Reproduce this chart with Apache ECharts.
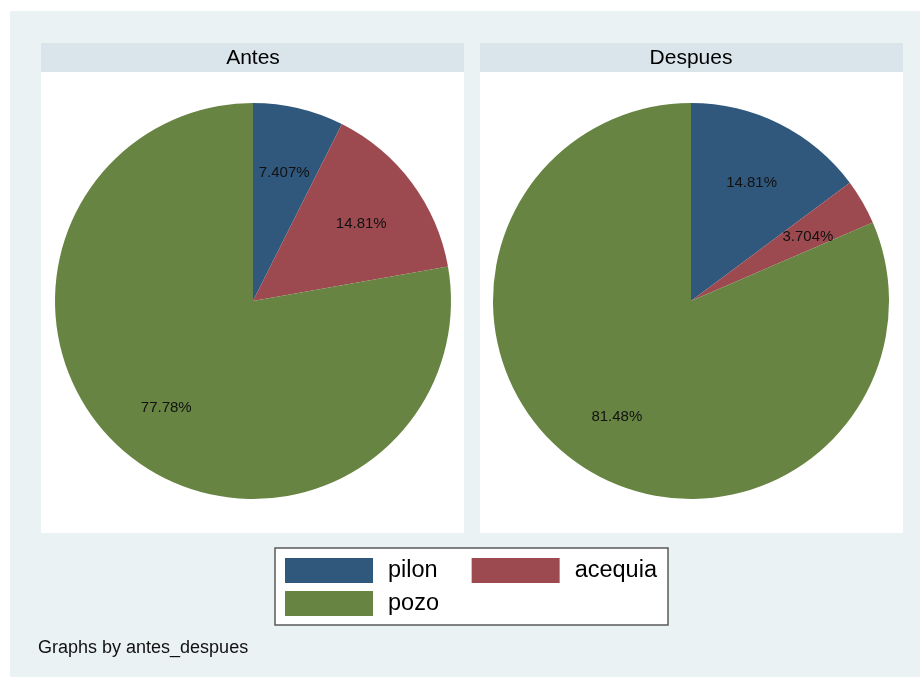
<!DOCTYPE html>
<html>
<head>
<meta charset="utf-8">
<script src="https://cdn.jsdelivr.net/npm/echarts@6/dist/echarts.min.js"></script>
<style>
  html, body { margin: 0; padding: 0; background: #fff; }
  #chart { width: 920px; height: 677px; }
</style>
</head>
<body>
<div id="chart"></div>
<script>
const categories = ['pilon', 'acequia', 'pozo'];
const panelTitles = ['Antes', 'Despues'];
const antesPercent = [7.407, 14.81, 77.78];
const despuesPercent = [14.81, 3.704, 81.48];
const sliceColors = ['#30587d', '#9c4a50', '#678442'];

const chart = echarts.init(document.getElementById('chart'));

// one pie for the wedges, one transparent ring on top just for the labels
function pieSeries(values, cx) {
  const data = categories.map((name, i) => ({ name: name, value: values[i] }));
  return [
    {
      type: 'pie',
      center: [cx, 301],
      radius: [0, 198],
      startAngle: 90,
      clockwise: true,
      silent: true,
      label: { show: false },
      labelLine: { show: false },
      itemStyle: { borderWidth: 0 },
      emphasis: { disabled: true },
      data: data
    },
    {
      type: 'pie',
      center: [cx, 301],
      radius: [66, 198],
      startAngle: 90,
      clockwise: true,
      silent: true,
      legendHoverLink: false,
      itemStyle: { color: 'transparent', borderWidth: 0 },
      emphasis: { disabled: true },
      label: {
        show: true,
        position: 'inside',
        offset: [0, 3],
        formatter: p => p.value + '%',
        color: '#111',
        fontSize: 15,
        fontFamily: 'Liberation Sans, Arial, sans-serif'
      },
      labelLine: { show: false },
      data: data.map(d => ({ name: d.name + ' ', value: d.value }))
    }
  ];
}

const font = 'Liberation Sans, Arial, sans-serif';

chart.setOption({
  animation: false,
  color: sliceColors,
  graphic: [
    { type: 'rect', z: -10, shape: { x: 10, y: 11, width: 910, height: 666 }, style: { fill: '#eaf2f3' } },
    { type: 'rect', z: -9, shape: { x: 41, y: 43, width: 423, height: 29 }, style: { fill: '#d9e5ea' } },
    { type: 'rect', z: -9, shape: { x: 41, y: 72, width: 423, height: 461 }, style: { fill: '#ffffff' } },
    { type: 'rect', z: -9, shape: { x: 480, y: 43, width: 423, height: 29 }, style: { fill: '#d9e5ea' } },
    { type: 'rect', z: -9, shape: { x: 480, y: 72, width: 423, height: 461 }, style: { fill: '#ffffff' } },
    { type: 'rect', z: -9, shape: { x: 275, y: 548, width: 393, height: 77 }, style: { fill: '#ffffff', stroke: '#5a5a5a', lineWidth: 1.5 } }
  ],
  title: [
    {
      text: panelTitles[0], left: 253, top: 48, textAlign: 'center', padding: 0,
      textStyle: { fontSize: 21, fontWeight: 'normal', color: '#000', fontFamily: font }
    },
    {
      text: panelTitles[1], left: 691, top: 48, textAlign: 'center', padding: 0,
      textStyle: { fontSize: 21, fontWeight: 'normal', color: '#000', fontFamily: font }
    },
    {
      text: 'Graphs by antes_despues', left: 38, top: 639, padding: 0,
      textStyle: { fontSize: 18, fontWeight: 'normal', color: '#111', fontFamily: font }
    }
  ],
  legend: [
    {
      data: categories.slice(0, 2),
      left: 285, top: 558, padding: 0,
      itemWidth: 88, itemHeight: 25, itemGap: 34,
      icon: 'rect', selectedMode: false,
      textStyle: { fontSize: 23.5, color: '#000', padding: [0, 0, 0, 10], fontFamily: font }
    },
    {
      data: categories.slice(2),
      left: 285, top: 591, padding: 0,
      itemWidth: 88, itemHeight: 25,
      icon: 'rect', selectedMode: false,
      textStyle: { fontSize: 23.5, color: '#000', padding: [0, 0, 0, 10], fontFamily: font }
    }
  ],
  series: [
    ...pieSeries(antesPercent, 253),
    ...pieSeries(despuesPercent, 691)
  ]
});

window.addEventListener('resize', () => chart.resize());
</script>
</body>
</html>
